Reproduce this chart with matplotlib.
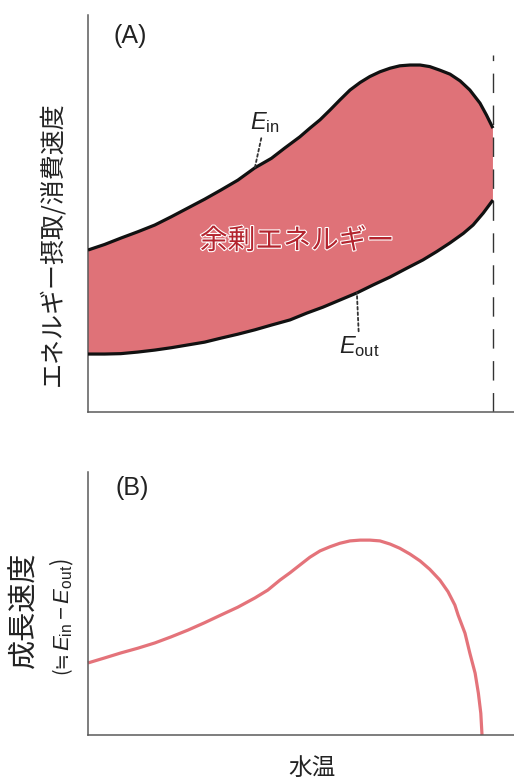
import matplotlib.pyplot as plt
import matplotlib.patheffects as pe

plt.rcParams['font.family'] = ['Noto Sans CJK JP', 'DejaVu Sans']
plt.rcParams['mathtext.fontset'] = 'custom'
plt.rcParams['mathtext.it'] = 'Liberation Sans:italic'
plt.rcParams['mathtext.rm'] = 'Liberation Sans'

# (A) energy intake / expenditure vs water temperature (arbitrary units)
temp_in = [0.0, 4.1, 8.1, 12.3, 16.5, 20.6, 24.7, 28.8, 32.8, 37.0,
           41.2, 45.3, 48.6, 52.3, 54.8, 57.3, 59.8, 62.2, 64.7, 67.2,
           69.6, 72.1, 74.6, 77.0, 79.5, 82.0, 84.4, 86.9, 89.4, 91.9,
           94.3, 96.8, 98.4, 100.0]
e_in = [40.8, 42.2, 43.8, 45.4, 47.1, 49.2, 51.4, 53.6, 55.9, 58.4,
        61.5, 63.9, 66.5, 69.3, 71.5, 73.6, 76.1, 78.6, 81.1, 83.0,
        84.5, 85.7, 86.6, 87.2, 87.4, 87.4, 87.0, 86.1, 85.1, 83.4,
        81.1, 77.8, 74.8, 71.5]

temp_out = [0.0, 4.1, 8.1, 12.3, 16.5, 20.6, 24.7, 28.8, 32.8, 37.0,
            41.2, 45.3, 49.9, 54.0, 58.0, 62.2, 66.4, 70.4, 74.6, 78.7,
            82.7, 86.1, 89.4, 92.7, 95.1, 97.6, 100.0]
e_out = [14.6, 14.6, 14.7, 15.1, 15.6, 16.2, 16.9, 17.6, 18.6, 19.6,
         20.7, 21.9, 23.2, 24.9, 26.4, 28.2, 30.0, 32.0, 34.0, 36.2,
         38.3, 40.4, 42.6, 45.0, 47.1, 50.1, 53.4]

t_crit = 100.0

# (B) growth rate (~ E_in - E_out)
temp_g = [0.0, 4.1, 8.1, 12.3, 16.5, 20.5, 24.7, 28.8, 32.8, 37.0,
          41.2, 44.4, 47.4, 49.9, 52.3, 54.8, 57.3, 59.8, 62.2, 64.7,
          67.2, 69.6, 72.1, 74.6, 77.0, 79.5, 82.0, 84.4, 86.9, 88.9,
          90.6, 91.4, 93.1, 94.3, 95.6, 96.4, 97.0, 97.3]
growth = [27.4, 29.3, 31.2, 33.0, 35.0, 37.3, 39.9, 42.7, 45.6, 48.6,
          52.1, 55.1, 58.9, 61.7, 64.6, 67.6, 70.0, 71.6, 72.9, 73.8,
          74.1, 74.1, 73.8, 72.6, 71.0, 68.8, 66.2, 63.0, 58.9, 54.5,
          49.4, 45.6, 38.7, 31.1, 23.5, 15.9, 8.3, 0.0]

fill_color = '#df7278'
line_red = '#e4737a'
text_red = '#b3242e'
spine_color = '#5a5a5a'
ink = '#222222'

fig = plt.figure(figsize=(5.14, 7.78), dpi=100)
ax_a = fig.add_axes([88 / 514, 1 - 412 / 778, 1 - 88 / 514, 397 / 778])
ax_b = fig.add_axes([88 / 514, 1 - 735 / 778, 1 - 88 / 514, 263 / 778])

for ax in (ax_a, ax_b):
    ax.set_xlim(0, 105.2)
    ax.set_ylim(0, 100)
    ax.set_xticks([])
    ax.set_yticks([])
    ax.spines['top'].set_visible(False)
    ax.spines['right'].set_visible(False)
    for s in ('left', 'bottom'):
        ax.spines[s].set_color(spine_color)
        ax.spines[s].set_linewidth(1.1)
    ax.patch.set_alpha(0)

# panel A
poly_x = temp_in + temp_out[::-1]
poly_y = e_in + e_out[::-1]
ax_a.fill(poly_x, poly_y, color=fill_color, lw=0, zorder=1)
ax_a.plot(temp_in, e_in, color='#111111', lw=2.3, solid_capstyle='butt',
          solid_joinstyle='round', zorder=3)
ax_a.plot(temp_out, e_out, color='#111111', lw=2.3, solid_capstyle='butt',
          solid_joinstyle='round', zorder=3)
ax_a.vlines(t_crit, 0, 90, colors='#333333', lw=1.0, linestyles=(0, (14, 9)), zorder=2)

leader = dict(arrowstyle='-', ls=(0, (1.5, 1.5)), lw=1.3, color='#333333',
              shrinkA=0, shrinkB=0)
ax_a.annotate(r'$E_{\mathrm{in}}$', xy=(temp_in[10], e_in[10]), xytext=(43.6, 72.8),
              ha='center', va='center', fontsize=17, color=ink,
              arrowprops=leader, zorder=4)
ax_a.annotate(r'$E_{\mathrm{out}}$', xy=(temp_out[16], e_out[16]), xytext=(67.0, 16.5),
              ha='center', va='center', fontsize=17, color=ink,
              arrowprops=leader, zorder=4)

ax_a.text(51.6, 43.1, '余剰エネルギー', ha='center', va='center', fontsize=20,
          color=text_red, zorder=5,
          path_effects=[pe.withStroke(linewidth=1.6, foreground='white')])

# panel B
ax_b.plot(temp_g, growth, color=line_red, lw=2.3, solid_capstyle='butt',
          solid_joinstyle='round', clip_on=False)

# labels
fig.text(130 / 514, 1 - 36 / 778, '(A)', family='Liberation Sans', fontsize=18,
         ha='center', va='center', color=ink)
fig.text(132 / 514, 1 - 488 / 778, '(B)', family='Liberation Sans', fontsize=18,
         ha='center', va='center', color=ink)
fig.text(52 / 514, 1 - 244 / 778, 'エネルギー摂取/消費速度', rotation=90,
         ha='center', va='center', fontsize=18, color=ink)
fig.text(25 / 514, 1 - 610 / 778, '成長速度', rotation=90,
         ha='center', va='center', fontsize=21, color=ink)
fig.text(312 / 514, 1 - 768 / 778, '水温', ha='center', va='center',
         fontsize=17, color=ink)

# small sub-label: "(≒" then the math part stacked above it
t1 = fig.text(62 / 514, 1 - 674 / 778, '(≒', rotation=90,
              ha='center', va='bottom', fontsize=14, color=ink)
fig.canvas.draw()
bb = t1.get_window_extent(fig.canvas.get_renderer())
fig.text(62 / 514, bb.y1 / fig.bbox.height, r'$E_{\mathrm{in}}-E_{\mathrm{out}}$)',
         rotation=90, ha='center', va='bottom', fontsize=16, color=ink)

fig.savefig('out.png', dpi=100)
